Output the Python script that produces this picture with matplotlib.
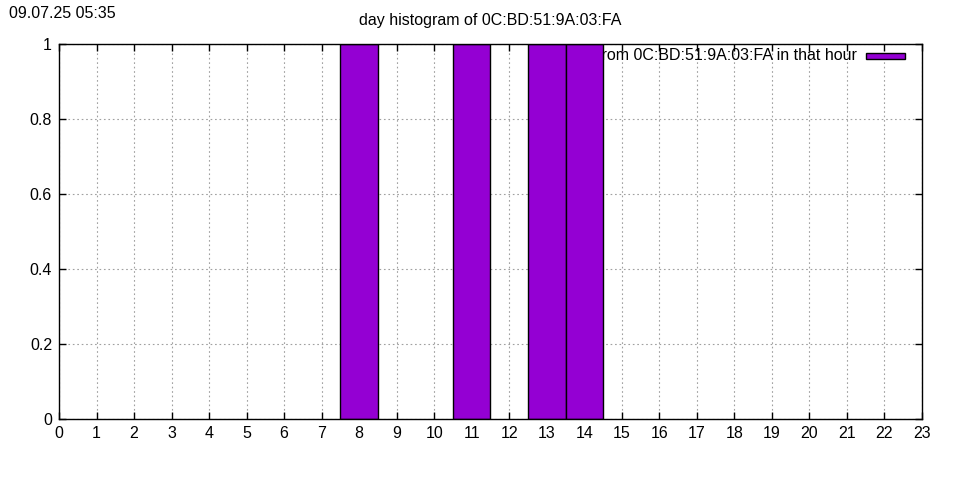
import matplotlib
matplotlib.use("Agg")
import matplotlib.pyplot as plt
from matplotlib.patches import Rectangle
from matplotlib.ticker import FuncFormatter

plt.rcParams["font.family"] = ["Liberation Sans", "DejaVu Sans"]

hours = list(range(24))
counts = [0, 0, 0, 0, 0, 0, 0, 0, 1, 0, 0, 1, 0, 1, 1, 0, 0, 0, 0, 0, 0, 0, 0, 0]
title = "day histogram of 0C:BD:51:9A:03:FA"
stamp = "09.07.25 05:35"
legend_label = "from 0C:BD:51:9A:03:FA in that hour"
bar_color = "#9400d3"
fs = 11.5

fig = plt.figure(figsize=(9.6, 4.8), dpi=100)
ax = fig.add_axes([59 / 960, 61 / 480, 863 / 960, 375 / 480])

# legend text sits under the bars, like gnuplot draws it
ax.text(0.924, 0.968, legend_label, transform=ax.transAxes, ha="right", va="center",
        fontsize=11.5, zorder=1)
ax.add_patch(Rectangle((0.935, 0.96), 0.045, 0.016, transform=ax.transAxes,
                       facecolor=bar_color, edgecolor="black", lw=1, zorder=1))

xs = [h for h, c in zip(hours, counts) if c > 0]
ys = [c for c in counts if c > 0]
ax.bar(xs, ys, width=1.0, color=bar_color, edgecolor="black", linewidth=1, zorder=3)

ax.set_xlim(0, 23)
ax.set_ylim(0, 1)
ax.set_xticks(range(0, 24))
ax.set_yticks([0, 0.2, 0.4, 0.6, 0.8, 1.0])
ax.yaxis.set_major_formatter(FuncFormatter(lambda v, p: "%g" % v))
ax.grid(True, color="#a0a0a0", linestyle=(0, (1.5, 2.5)), linewidth=0.8, zorder=0)
ax.set_axisbelow(True)
ax.tick_params(direction="in", length=5, width=1, top=True, right=True,
               labelsize=fs, pad=5, colors="black")
for s in ax.spines.values():
    s.set_linewidth(1)
    s.set_zorder(4)

fig.text(490 / 960, 1 - 21 / 480, title, ha="center", va="center", fontsize=fs)
fig.text(9 / 960, 1 - 13 / 480, stamp, ha="left", va="center", fontsize=fs)

fig.savefig("out.png", dpi=100)
